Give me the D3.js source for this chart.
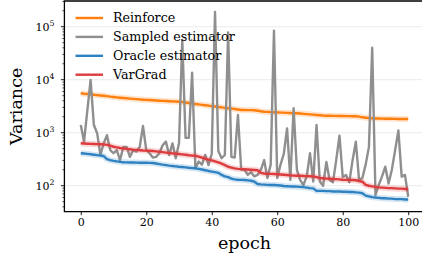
<!DOCTYPE html>
<html>
<head>
<meta charset="utf-8">
<script src="https://cdn.jsdelivr.net/npm/d3@7"></script>
<style>
  body { margin: 0; background: #fff; }
  text { font-family: "DejaVu Serif", serif; fill: #000; }
</style>
</head>
<body>
<svg id="chart"></svg>
<script>
// Data (epoch 0..100)
const epochs = d3.range(0, 101);
const xTicks = [0, 20, 40, 60, 80, 100];
const yTicks = [1e2, 1e3, 1e4, 1e5];
const seriesNames = ["Reinforce", "Sampled estimator", "Oracle estimator", "VarGrad"];

const reinforce = [
  5540, 5450, 5380, 5300, 5200, 5120, 5050,
  4990, 4900, 4800, 4720, 4650, 4580, 4520,
  4460, 4400, 4350, 4300, 4250, 4200, 4160,
  4140, 4100, 4060, 4020, 3990, 3960, 3930, 3900, 3870,
  3845, 3800, 3720, 3640, 3560,
  3480, 3420, 3360, 3300, 3240, 3180, 3120,
  3060, 3000, 2950, 2900, 2850, 2800, 2740,
  2680, 2680, 2670, 2670, 2660, 2600, 2540,
  2490, 2470, 2450, 2430, 2420, 2400, 2390, 2370, 2350, 2335,
  2323, 2300, 2270, 2245, 2220, 2190, 2160, 2135, 2110,
  2093, 2085, 2080, 2075, 2070, 2065, 2060, 2055, 2050,
  2040, 2010, 1953, 1920, 1890,
  1870, 1860, 1850, 1845, 1840, 1835, 1830, 1825, 1820, 1818, 1815, 1813
];

const sampled = [
  1400, 680, 2600, 9900, 1400, 980, 380, 630, 900, 470,
  410, 470, 305, 540, 540, 350, 470, 440, 540, 1340,
  470, 410, 340, 350, 410, 580, 680, 380, 630, 330,
  630, 56000, 800, 800, 13500, 215, 285, 250, 380, 245,
  400, 190000, 450, 330, 380, 78000, 350, 340, 2160, 200,
  200, 160, 180, 150, 160, 200, 305, 140, 250, 84000,
  140, 250, 400, 1200, 128, 2900, 200, 128, 103, 150,
  409, 120, 1400, 120, 100, 280, 128, 116, 300, 880,
  146, 159, 116, 300, 676, 128, 140, 250, 540, 40000,
  67, 103, 150, 228, 110, 200, 470, 1100, 148, 160,
  62
];

const oracle = [
  409, 405, 398, 392, 385, 378, 370,
  363, 319, 305, 295, 288, 282, 278,
  276, 275, 274, 273, 272, 272, 271,
  270, 268, 262, 256, 250, 245, 240, 236, 232,
  228, 225, 222, 218, 215,
  213, 208, 202, 196, 190, 185, 180,
  175, 160, 150, 145, 136, 132, 130,
  129, 128, 126, 124, 119, 108, 106,
  105, 104, 103, 103, 102, 101, 99, 98, 97, 97,
  96, 95, 94, 92, 90, 89, 80, 80, 80,
  79, 79, 78, 78, 78, 77, 77, 76, 76,
  75, 74, 72, 65, 63,
  61, 60, 59, 58, 58, 57, 57, 56, 56, 56, 55, 55
];

const vargrad = [
  631, 625, 620, 615, 612, 608, 606,
  604, 590, 570, 544, 530, 515, 505,
  495, 488, 480, 474, 468, 463, 460,
  457, 452, 445, 437, 430, 422, 415, 408, 402,
  396, 390, 384, 376, 370,
  368, 355, 340, 325, 310, 300, 288,
  275, 260, 245, 228, 220, 212, 208,
  206, 204, 202, 200, 198, 196, 175,
  170, 168, 167, 166, 165, 163, 161, 159, 157, 155,
  154, 154, 153, 152, 151, 150, 145, 140, 138,
  136, 135, 134, 133, 132, 130, 129, 128, 128,
  127, 123, 119, 104, 100,
  97, 95, 93, 92, 91, 90, 90, 89, 88, 88, 87, 87
];

const colors = ["#ff7f0e", "#8f8f8f", "#2f82c2", "#dd3b3d"];
const allSeries = [reinforce, sampled, oracle, vargrad];

// Dimensions
const W = 422, H = 260;
const margin = { top: 1, left: 64.4, bottom: 48.3 };
const width = 360.2;
const height = H - margin.top - margin.bottom;

const svg = d3.select("#chart").attr("width", W).attr("height", H);

const xScale = d3.scaleLinear().domain([-5, 105]).range([margin.left, margin.left + width]);
const yScale = d3.scaleLog().domain([Math.pow(10, 1.51), Math.pow(10, 5.485)])
    .range([margin.top + height, margin.top]);

svg.append("defs").append("clipPath").attr("id", "clip")
    .append("rect")
    .attr("x", margin.left).attr("y", margin.top)
    .attr("width", width).attr("height", height);

// Horizontal grid at decades
svg.append("g").selectAll("line").data(yTicks).join("line")
    .attr("x1", margin.left).attr("x2", margin.left + width)
    .attr("y1", d => yScale(d)).attr("y2", d => yScale(d))
    .attr("stroke", "#ebebeb").attr("stroke-width", 1);

// Lines
const line = d3.line()
    .x((d, i) => xScale(epochs[i]))
    .y(d => yScale(d));

const plot = svg.append("g").attr("clip-path", "url(#clip)");

allSeries.forEach((s, k) => {
    if (k !== 1) {
        // soft band around the smooth curves
        plot.append("path")
            .datum(s)
            .attr("d", line)
            .attr("fill", "none")
            .attr("stroke", colors[k])
            .attr("stroke-opacity", 0.2)
            .attr("stroke-width", 6)
            .attr("stroke-linejoin", "round");
    }
    plot.append("path")
        .datum(s)
        .attr("d", line)
        .attr("fill", "none")
        .attr("stroke", colors[k])
        .attr("stroke-width", k === 1 ? 2.4 : 2.4)
        .attr("stroke-linejoin", "round");
});

// Axes
const xAxis = svg.append("g")
    .attr("transform", `translate(0,${margin.top + height})`)
    .call(d3.axisBottom(xScale).tickValues(xTicks).tickSize(3.5).tickPadding(3.5).tickSizeOuter(0));
xAxis.select(".domain").remove();
xAxis.selectAll("text").style("font-size", "11px").style("font-family", "DejaVu Serif");
xAxis.selectAll(".tick line").attr("stroke-width", 0.9);

// minor y ticks
const minor = [];
for (let p = 1; p <= 5; p++) {
    for (let m = 2; m <= 9; m++) {
        const v = m * Math.pow(10, p);
        if (v >= yScale.domain()[0] && v <= yScale.domain()[1]) minor.push(v);
    }
}
svg.append("g").selectAll("line").data(minor).join("line")
    .attr("x1", margin.left - 2).attr("x2", margin.left)
    .attr("y1", d => yScale(d)).attr("y2", d => yScale(d))
    .attr("stroke", "#000").attr("stroke-width", 0.7);

const yAxis = svg.append("g");
yAxis.selectAll("line").data(yTicks).join("line")
    .attr("x1", margin.left - 3.5).attr("x2", margin.left)
    .attr("y1", d => yScale(d)).attr("y2", d => yScale(d))
    .attr("stroke", "#000").attr("stroke-width", 0.9);

const yLabels = yAxis.selectAll("text").data(yTicks).join("text")
    .attr("x", margin.left - 10)
    .attr("y", d => yScale(d) + 4)
    .attr("text-anchor", "end")
    .style("font-size", "11px");
yLabels.append("tspan").text("10");
yLabels.append("tspan").attr("dy", -5).style("font-size", "7.7px")
    .text(d => Math.round(Math.log10(d)));

// Spines: left, bottom, top
svg.append("path")
    .attr("d", `M${margin.left + width},${margin.top} H${margin.left} V${margin.top + height} H${margin.left + width}`)
    .attr("fill", "none").attr("stroke", "#000").attr("stroke-width", 1.3);

// Axis titles
svg.append("text")
    .attr("x", xScale(50))
    .attr("y", 249)
    .attr("text-anchor", "middle")
    .style("font-size", "17.5px")
    .text("epoch");

svg.append("text")
    .attr("transform", `translate(22,${margin.top + height / 2}) rotate(-90)`)
    .attr("text-anchor", "middle")
    .style("font-size", "17.5px")
    .text("Variance");

// Legend
const legend = svg.append("g");
seriesNames.forEach((name, k) => {
    const y = 18 + k * 18.9;
    legend.append("line")
        .attr("x1", 75.5).attr("x2", 103)
        .attr("y1", y).attr("y2", y)
        .attr("stroke", colors[k]).attr("stroke-width", 2.4);
    legend.append("text")
        .attr("x", 113).attr("y", y + 4.3)
        .style("font-size", "12.7px")
        .text(name);
});
</script>
</body>
</html>
